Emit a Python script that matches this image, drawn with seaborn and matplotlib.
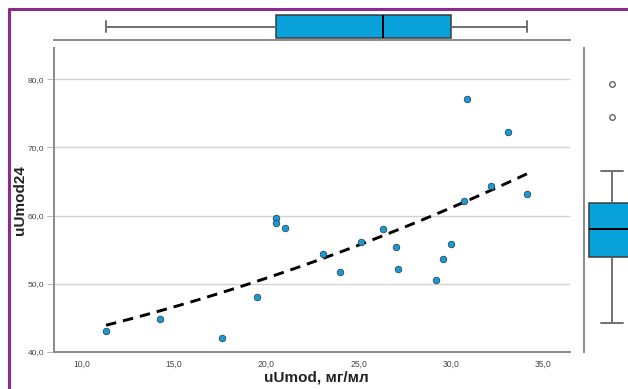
import matplotlib
matplotlib.use("Agg")
import matplotlib.pyplot as plt
from matplotlib.lines import Line2D
from matplotlib.ticker import FuncFormatter
import numpy as np
import pandas as pd
import seaborn as sns

# uUmod (mg/ml) against uUmod24
umod = [11.3, 14.25, 17.6, 19.5, 20.5, 20.5, 21.0, 23.05, 24.0, 25.15, 26.3,
        27.05, 27.15, 29.2, 29.6, 30.0, 30.7, 30.9, 32.2, 33.1, 34.15]
umod24 = [43.1, 44.8, 42.0, 48.1, 59.6, 58.85, 58.1, 54.35, 51.65, 56.06, 58.06,
          55.4, 52.1, 50.5, 53.6, 55.8, 62.1, 77.1, 64.3, 72.2, 63.2]
x_ticks = [10, 15, 20, 25, 30, 35]
y_ticks = [40, 50, 60, 70, 80]

df = pd.DataFrame({"uUmod": umod, "uUmod24": umod24})

sns.set_theme(style="white")
plt.rcParams["font.family"] = ["Liberation Sans", "DejaVu Sans"]

W, H = 628, 389
fig = plt.figure(figsize=(W / 100, H / 100), dpi=100)


def rect(l, t, r, b):
    return [l / W, 1 - b / H, (r - l) / W, (b - t) / H]


BLUE = "#0aa2da"
DOT = "#1d9ad4"
SPINE = "#8a8a8a"
XLIM = (8.48, 36.46)
YLIM = (40, 84.6)

ax = fig.add_axes(rect(54, 48, 570, 351.7))
ax_top = fig.add_axes(rect(54, 9, 570, 40))
ax_right = fig.add_axes(rect(584, 48, 640, 351.7))

# main scatter with fitted curve
ax.yaxis.grid(True, color="#d2d2d2", lw=1)
ax.set_axisbelow(True)
sns.regplot(data=df, x="uUmod", y="uUmod24", ax=ax, order=2, scatter=False,
            ci=None, truncate=True,
            line_kws=dict(color="black", lw=2.1, ls=(0, (3.6, 2.4))))
sns.scatterplot(data=df, x="uUmod", y="uUmod24", ax=ax, s=22, color=DOT,
                edgecolor="#24485c", linewidth=0.6, zorder=4)
ax.set_xlim(*XLIM)
ax.set_ylim(*YLIM)
ax.set_xticks(x_ticks)
ax.set_yticks(y_ticks)
fmt = FuncFormatter(lambda v, p: f"{v:.1f}".replace(".", ","))
ax.xaxis.set_major_formatter(fmt)
ax.yaxis.set_major_formatter(fmt)
ax.tick_params(axis="x", length=0, pad=6, labelsize=6.2, labelcolor="#444444")
ax.tick_params(axis="y", length=5, width=0.8, color="#bbbbbb", pad=2,
               labelsize=6.0, labelcolor="#444444", left=True)
for s in ("top", "right"):
    ax.spines[s].set_visible(False)
for s in ("left", "bottom"):
    ax.spines[s].set_color(SPINE)
    ax.spines[s].set_linewidth(1.4)
ax.set_xlabel("uUmod, мг/мл", fontsize=11, fontweight="bold", color="#222222")
ax.set_ylabel("uUmod24", fontsize=11, fontweight="bold", color="#222222")
ax.xaxis.set_label_coords(0.508, -0.062)
ax.yaxis.set_label_coords(-0.052, 0.5)

box_kw = dict(width=0.8, color=BLUE, saturation=1, linecolor="#3a3a3a",
              linewidth=1.1, fliersize=4,
              flierprops=dict(marker="o", markerfacecolor="white",
                              markeredgecolor="#555555", markeredgewidth=0.9),
              medianprops=dict(color="black", lw=1.4),
              whiskerprops=dict(color="#707070", lw=1.4),
              capprops=dict(color="#707070", lw=1.4))

# marginal box for uUmod
sns.boxplot(data=df, x="uUmod", ax=ax_top, orient="h", **box_kw)
ax_top.set_xlim(*XLIM)
ax_top.set_ylim(0.48, -0.63)
ax_top.set_xticks([])
ax_top.set_yticks([])
ax_top.set_xlabel("")
ax_top.set_ylabel("")
for s in ("top", "right", "left"):
    ax_top.spines[s].set_visible(False)
ax_top.spines["bottom"].set_color(SPINE)
ax_top.spines["bottom"].set_linewidth(1.4)

# marginal box for uUmod24
sns.boxplot(data=df, y="uUmod24", ax=ax_right, orient="v", **box_kw)
ax_right.set_xlim(-0.487, 0.487)
ax_right.set_ylim(YLIM[0] - 2.2, YLIM[1] - 2.2)
ax_right.set_xticks([])
ax_right.set_yticks([])
ax_right.set_xlabel("")
ax_right.set_ylabel("")
for s in ("top", "right", "bottom"):
    ax_right.spines[s].set_visible(False)
ax_right.spines["left"].set_color(SPINE)
ax_right.spines["left"].set_linewidth(1.4)

# frame
PURPLE = "#8c2b8c"
fig.add_artist(Line2D([8.5 / W, 1], [1 - 8.5 / H] * 2, color=PURPLE, lw=2.2,
                      transform=fig.transFigure))
fig.add_artist(Line2D([8.5 / W] * 2, [1 - 8.5 / H, 0], color=PURPLE, lw=2.2,
                      transform=fig.transFigure))

fig.savefig("out.png", dpi=100, facecolor="white")
